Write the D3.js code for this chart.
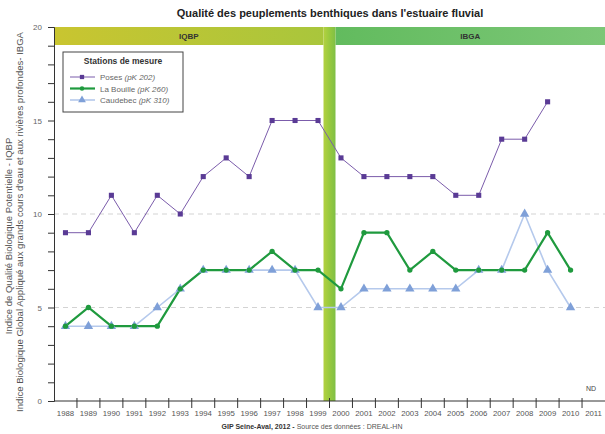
<!DOCTYPE html>
<html>
<head>
<meta charset="utf-8">
<script src="https://cdn.jsdelivr.net/npm/d3@7"></script>
<style>
  body { margin: 0; background: #fff; }
  svg { font-family: "Liberation Sans", Arial, sans-serif; }
</style>
</head>
<body>
<div id="chart"></div>
<script>
// Données
const years = d3.range(1988, 2012);
const dataYears = d3.range(1988, 2011);
const poses = [9, 9, 11, 9, 11, 10, 12, 13, 12, 15, 15, 15, 13, 12, 12, 12, 12, 11, 11, 14, 14, 16, null];
const laBouille = [4, 5, 4, 4, 4, 6, 7, 7, 7, 8, 7, 7, 6, 9, 9, 7, 8, 7, 7, 7, 7, 9, 7];
const caudebec = [4, 4, 4, 4, 5, 6, 7, 7, 7, 7, 7, 5, 5, 6, 6, 6, 6, 6, 7, 7, 10, 7, 5];
const yTicks = d3.range(0, 21);
const yLabels = [0, 5, 10, 15, 20];
const gridValues = [5, 10];
const periods = [
    { label: "IQBP", from: 1988, to: 1999 },
    { label: "IBGA", from: 2000, to: 2011 }
];

const W = 605, H = 434;
const pLeft = 54, pRight = 605, pTop = 27, pBottom = 401;

const svg = d3.select("#chart").append("svg")
    .attr("width", W)
    .attr("height", H);

const x = d3.scaleBand().domain(years).range([pLeft, pRight]).padding(0);
const y = d3.scaleLinear().domain([0, 20]).range([pBottom, pTop]);
const cx = yr => x(yr) + x.bandwidth() / 2;

const defs = svg.append("defs");
const g1 = defs.append("linearGradient").attr("id", "gIqbp");
g1.append("stop").attr("offset", "0%").attr("stop-color", "#c9c530");
g1.append("stop").attr("offset", "100%").attr("stop-color", "#a9c63c");
const g2 = defs.append("linearGradient").attr("id", "gIbga");
g2.append("stop").attr("offset", "0%").attr("stop-color", "#62bb5e");
g2.append("stop").attr("offset", "100%").attr("stop-color", "#7cc777");
const g3 = defs.append("linearGradient").attr("id", "gBar")
    .attr("x1", 0).attr("x2", 1).attr("y1", 0).attr("y2", 0);
g3.append("stop").attr("offset", "0%").attr("stop-color", "#b3d140");
g3.append("stop").attr("offset", "50%").attr("stop-color", "#98c93e");
g3.append("stop").attr("offset", "100%").attr("stop-color", "#7fbf45");

// Titre
svg.append("text")
    .attr("x", 330).attr("y", 17)
    .attr("text-anchor", "middle")
    .style("font-size", "11px")
    .style("font-weight", "bold")
    .style("fill", "#222")
    .text("Qualité des peuplements benthiques dans l'estuaire fluvial");

// Lignes pointillées
svg.selectAll(".grid")
    .data(gridValues)
    .enter().append("line")
    .attr("x1", pLeft).attr("x2", pRight)
    .attr("y1", d => y(d)).attr("y2", d => y(d))
    .attr("stroke", "#c8c8c8")
    .attr("stroke-width", 0.8)
    .attr("stroke-dasharray", "5,4");

// Bandeaux IQBP / IBGA
const barX = x(2000);
const bandH = 18;
svg.append("rect")
    .attr("x", pLeft).attr("y", pTop)
    .attr("width", barX - 6 - pLeft).attr("height", bandH)
    .attr("fill", "url(#gIqbp)");
svg.append("rect")
    .attr("x", barX + 6).attr("y", pTop)
    .attr("width", pRight - barX - 6).attr("height", bandH)
    .attr("fill", "url(#gIbga)");
svg.selectAll(".plabel")
    .data(periods)
    .enter().append("text")
    .attr("x", d => (x(d.from) + x(d.to) + x.bandwidth()) / 2 + (d.label === "IQBP" ? -3 : 3))
    .attr("y", pTop + 12)
    .attr("text-anchor", "middle")
    .style("font-size", "8px")
    .style("font-weight", "bold")
    .style("fill", "#333")
    .text(d => d.label);

// Barre verticale de changement d'indice
svg.append("rect")
    .attr("x", barX - 6).attr("y", pTop)
    .attr("width", 12).attr("height", pBottom - pTop)
    .attr("fill", "url(#gBar)");

// Axe Y
const yAxis = svg.append("g")
    .attr("transform", `translate(${pLeft},0)`)
    .call(d3.axisLeft(y).tickValues(yTicks).tickSize(6).tickPadding(6)
        .tickFormat(d => yLabels.includes(d) ? d : ""));
yAxis.select(".domain").attr("stroke", "#333");
yAxis.selectAll("line").attr("stroke", "#333");
yAxis.selectAll("text").style("font-size", "8px").style("fill", "#666")
    .style("font-family", "Liberation Sans, Arial, sans-serif");

// Axe X
const xAxis = svg.append("g")
    .attr("transform", `translate(0,${pBottom})`)
    .call(d3.axisBottom(x).tickSize(0).tickPadding(9));
xAxis.select(".domain").attr("stroke", "#333").attr("d", `M${pLeft},0H${pRight}`);
xAxis.selectAll("text").style("font-size", "7.8px").style("fill", "#555")
    .style("font-family", "Liberation Sans, Arial, sans-serif");
svg.append("g").selectAll("line")
    .data(years.slice(1))
    .enter().append("line")
    .attr("x1", d => x(d)).attr("x2", d => x(d))
    .attr("y1", pBottom - 3).attr("y2", pBottom + 7)
    .attr("stroke", "#333");

// Titre de l'axe Y
const yTitle = svg.append("g")
    .style("fill", "#555");
yTitle.append("text")
    .attr("transform", "translate(12,236) rotate(-90)")
    .attr("text-anchor", "middle")
    .style("font-size", "9.5px")
    .text("Indice de Qualité Biologique Potentielle - IQBP");
yTitle.append("text")
    .attr("transform", "translate(23,222) rotate(-90)")
    .attr("text-anchor", "middle")
    .style("font-size", "9px")
    .attr("textLength", 380)
    .attr("lengthAdjust", "spacingAndGlyphs")
    .text("Indice Biologique Global Appliqué aux grands cours d'eau et aux rivières profondes- IBGA");

// Séries
const series = [
    { name: "Caudebec", pk: "(pK 310)", values: caudebec, line: "#b5c9ec", width: 1.6, mark: "#7fa0d8", symbol: d3.symbolTriangle, size: 38 },
    { name: "La Bouille", pk: "(pK 260)", values: laBouille, line: "#1f9a3e", width: 2.2, mark: "#1f9a3e", symbol: d3.symbolCircle, size: 22 },
    { name: "Poses", pk: "(pK 202)", values: poses, line: "#7b5cab", width: 1, mark: "#5a3b95", symbol: d3.symbolSquare, size: 26 }
];

const line = d3.line()
    .defined(d => d.v != null)
    .x(d => cx(d.year))
    .y(d => y(d.v));

series.forEach(s => {
    const pts = dataYears.map((yr, i) => ({ year: yr, v: s.values[i] }));
    svg.append("path")
        .datum(pts)
        .attr("fill", "none")
        .attr("stroke", s.line)
        .attr("stroke-width", s.width)
        .attr("d", line);
    s.pts = pts;
});
series.forEach(s => {
    svg.append("g").selectAll("path")
        .data(s.pts.filter(d => d.v != null))
        .enter().append("path")
        .attr("transform", d => `translate(${cx(d.year)},${y(d.v)})`)
        .attr("d", d3.symbol().type(s.symbol).size(s.size))
        .attr("fill", s.mark);
});

// Légende
const lg = svg.append("g").attr("transform", "translate(63,52)");
lg.append("rect")
    .attr("width", 120).attr("height", 60)
    .attr("fill", "#fff")
    .attr("stroke", "#444")
    .attr("stroke-width", 1);
lg.append("text")
    .attr("x", 60).attr("y", 12)
    .attr("text-anchor", "middle")
    .style("font-size", "8.5px")
    .style("font-weight", "bold")
    .style("fill", "#333")
    .text("Stations de mesure");
const legendOrder = [series[2], series[1], series[0]];
legendOrder.forEach((s, i) => {
    const yy = 25 + i * 11.5;
    lg.append("line")
        .attr("x1", 7).attr("x2", 32)
        .attr("y1", yy).attr("y2", yy)
        .attr("stroke", s.line)
        .attr("stroke-width", s.width);
    lg.append("path")
        .attr("transform", `translate(19,${yy})`)
        .attr("d", d3.symbol().type(s.symbol).size(s.size * 0.7))
        .attr("fill", s.mark);
    const t = lg.append("text")
        .attr("x", 37).attr("y", yy + 3)
        .style("font-size", "8px")
        .style("fill", "#666");
    t.append("tspan").text(s.name + " ");
    t.append("tspan").style("font-style", "italic").text(s.pk);
});

// ND
svg.append("text")
    .attr("x", 596).attr("y", 391)
    .attr("text-anchor", "end")
    .style("font-size", "7px")
    .style("fill", "#444")
    .text("ND");

// Source
const src = svg.append("text")
    .attr("x", 312).attr("y", 429)
    .attr("text-anchor", "middle")
    .style("font-size", "7px")
    .style("fill", "#555");
src.append("tspan").style("font-weight", "bold").style("fill", "#333").text("GIP Seine-Aval, 2012 - ");
src.append("tspan").text("Source des données : DREAL-HN");
</script>
</body>
</html>
